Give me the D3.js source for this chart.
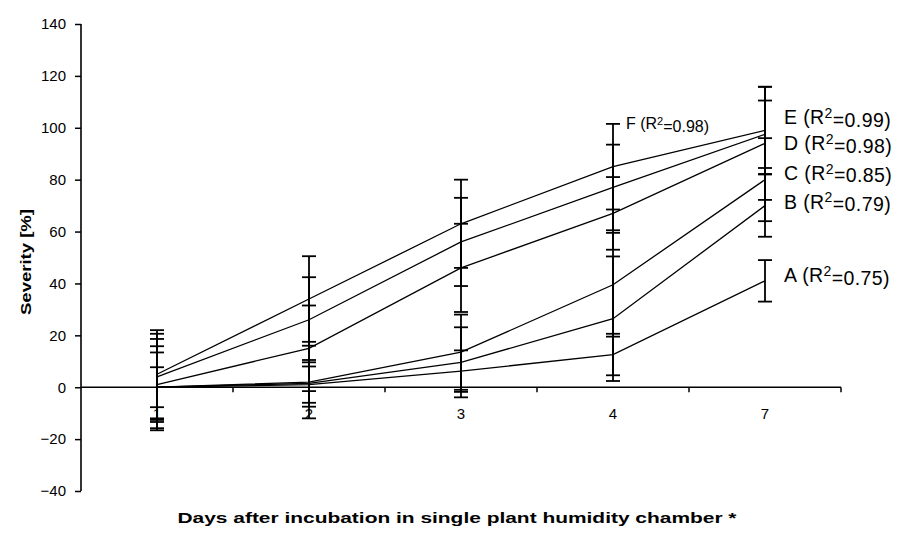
<!DOCTYPE html>
<html>
<head>
<meta charset="utf-8">
<script src="https://d3js.org/d3.v7.min.js"></script>
<style>
  body { margin: 0; background: #fff; }
  text { font-family: "Liberation Sans", Arial, sans-serif; fill: #000; }
</style>
</head>
<body>
<div id="chart"></div>
<script>
// days after incubation
var days = ["1", "2", "3", "4", "7"];
var seriesNames = ["A", "B", "C", "D", "E", "F"];
var r2Labels = ["0.75", "0.79", "0.85", "0.98", "0.99", "0.98"];

// mean severity (%) per series
var meanA = [0, 1, 6.2, 12.6, 41];
var meanB = [0, 1.5, 9.6, 26.4, 70];
var meanC = [0, 2, 13.5, 39.5, 80];
var meanD = [1, 15, 46, 67, 94];
var meanE = [4, 26, 56, 77, 97.5];
var meanF = [5, 34, 63, 85, 99];

// error bar half-heights
var errA = [7.7, 7, 8, 8, 8];
var errB = [13.4, 9, 13.5, 24, 12];
var errC = [15.8, 14, 14.5, 20, 16];
var errD = [17.6, 16.5, 17, 14, 21.8];
var errE = [16.6, 16.4, 17, 16.5, 13];
var errF = [17, 16.5, 17, 16.5, 16.8];

var yTicks = [-40, -20, 0, 20, 40, 60, 80, 100, 120, 140];

var means = [meanA, meanB, meanC, meanD, meanE, meanF];
var errs = [errA, errB, errC, errD, errE, errF];

var W = 897, H = 544;
var svg = d3.select("#chart").append("svg")
  .attr("width", W).attr("height", H);

var x = d3.scaleBand().domain(days).range([81, 841]);
var y = d3.scaleLinear().domain([-40, 140]).range([491, 24]);
var cx = function(d) { return x(d) + x.bandwidth() / 2; };

// y axis
var yAxis = svg.append("g")
  .attr("transform", "translate(81,0)")
  .call(d3.axisLeft(y).tickValues(yTicks).tickSize(6).tickPadding(9));
yAxis.select(".domain").attr("stroke", "#000").attr("stroke-width", 1.6)
  .attr("d", "M0," + y(140) + "V" + y(-40));
yAxis.selectAll(".tick line").attr("stroke-width", 1.5);
yAxis.selectAll("text").style("font-size", "15px").style("font-family", "Liberation Sans, Arial, sans-serif");

// x axis on the zero line
var xAxis = svg.append("g")
  .attr("transform", "translate(0," + y(0) + ")");
xAxis.append("line")
  .attr("x1", 81).attr("x2", 841)
  .attr("stroke", "#000").attr("stroke-width", 1.6);
xAxis.selectAll(".xt")
  .data(days)
  .enter().append("line")
  .attr("x1", function(d) { return x(d) + x.bandwidth(); })
  .attr("x2", function(d) { return x(d) + x.bandwidth(); })
  .attr("y1", 0).attr("y2", 5)
  .attr("stroke", "#000").attr("stroke-width", 1.5);
xAxis.selectAll(".xl")
  .data(days)
  .enter().append("text")
  .attr("x", cx)
  .attr("y", 32)
  .attr("text-anchor", "middle")
  .style("font-size", "15px")
  .text(function(d) { return d; });

// lines
var line = d3.line()
  .x(function(d, i) { return cx(days[i]); })
  .y(function(d) { return y(d); });

svg.selectAll(".series")
  .data(means)
  .enter().append("path")
  .attr("d", line)
  .attr("fill", "none")
  .attr("stroke", "#000")
  .attr("stroke-width", 1.3);

// error bars
var bars = [];
means.forEach(function(m, s) {
  m.forEach(function(v, i) {
    bars.push({ day: days[i], lo: v - errs[s][i], hi: v + errs[s][i] });
  });
});
var eb = svg.selectAll(".eb").data(bars).enter().append("g")
  .attr("stroke", "#000").attr("stroke-width", 1.8);
eb.append("line")
  .attr("x1", function(d) { return cx(d.day); })
  .attr("x2", function(d) { return cx(d.day); })
  .attr("y1", function(d) { return y(d.lo); })
  .attr("y2", function(d) { return y(d.hi); });
eb.append("line")
  .attr("x1", function(d) { return cx(d.day) - 7; })
  .attr("x2", function(d) { return cx(d.day) + 7; })
  .attr("y1", function(d) { return y(d.lo); })
  .attr("y2", function(d) { return y(d.lo); });
eb.append("line")
  .attr("x1", function(d) { return cx(d.day) - 7; })
  .attr("x2", function(d) { return cx(d.day) + 7; })
  .attr("y1", function(d) { return y(d.hi); })
  .attr("y2", function(d) { return y(d.hi); });

// series labels at the right (A..E), F near day 4
var labelLevel = [43, 71.5, 82.5, 94, 104, 101.5];
seriesNames.forEach(function(name, s) {
  var isF = name === "F";
  var t = svg.append("text")
    .attr("x", isF ? cx("4") + 13 : cx("7") + 19)
    .attr("y", y(labelLevel[s]))
    .attr("dy", "0.35em")
    .style("font-size", isF ? "16px" : "19.5px")
    .style("letter-spacing", isF ? "0px" : "0.4px");
  t.append("tspan").text(name + " (R");
  t.append("tspan").attr("dy", "-0.45em").style("font-size", isF ? "11px" : "14px").text("2");
  t.append("tspan").attr("dy", "0.45em").text("=" + r2Labels[s] + ")");
});

// axis titles
svg.append("text")
  .attr("transform", "translate(31,262) rotate(-90)")
  .attr("text-anchor", "middle")
  .style("font-size", "15px")
  .style("font-weight", "bold")
  .attr("textLength", 106)
  .attr("lengthAdjust", "spacingAndGlyphs")
  .text("Severity [%]");

svg.append("text")
  .attr("x", 457)
  .attr("y", 523)
  .attr("text-anchor", "middle")
  .style("font-size", "15px")
  .style("font-weight", "bold")
  .attr("textLength", 559)
  .attr("lengthAdjust", "spacingAndGlyphs")
  .text("Days after incubation in single plant humidity chamber *");
</script>
</body>
</html>
